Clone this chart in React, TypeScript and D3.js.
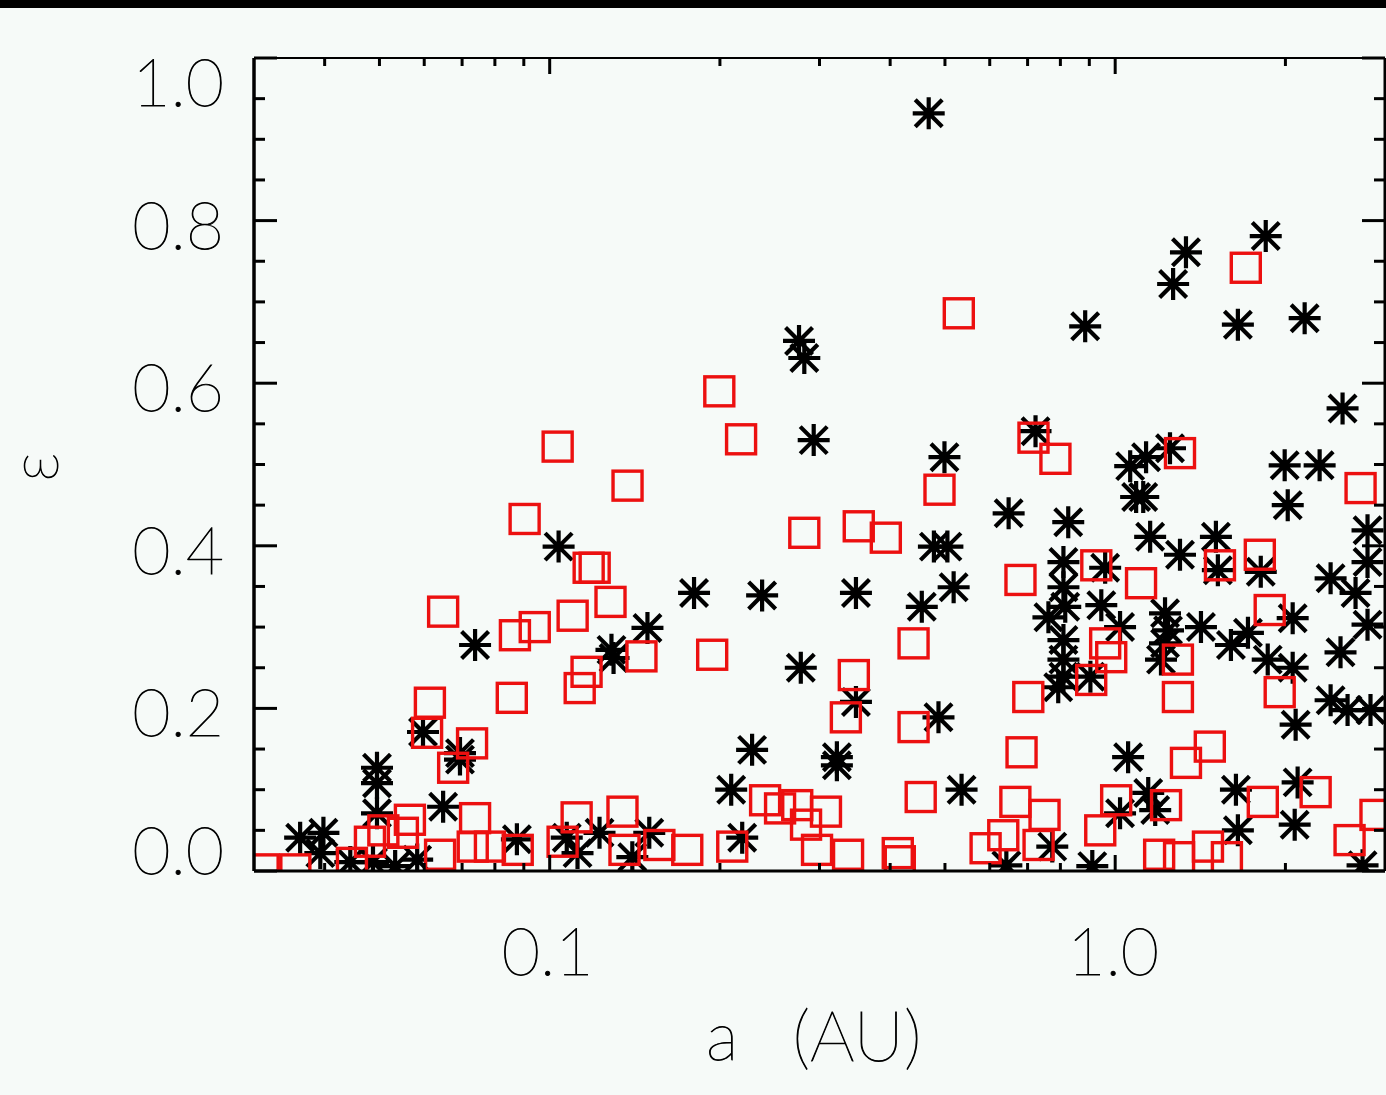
import React from 'react';
import * as d3 from 'd3';

// Black asterisks: semi-major axis a (AU) and eccentricity e
const starA = [0.468,1.846,1.334,1.266,1.648,2.163,0.885,0.276,0.282,0.293,
  2.524,0.499,0.723,1.063,1.134,1.250,1.994,2.299,2.019,1.089,
  1.121,0.648,0.826,1.153,1.302,1.507,1.519,1.809,2.404,2.661,
  2.794,2.794,0.810,0.810,0.960,0.478,0.505,0.518,0.455,0.1037,
  0.180,0.2375,0.348,0.1489,0.0738,0.1286,0.1297,0.278,0.348,0.487,
  0.0597,0.0694,0.0694,0.228,0.322,0.322,1.054,0.0495,0.0495,0.0495,
  0.0648,0.2094,0.219,0.535,0.762,0.816,0.945,1.020,1.225,1.240,
  1.418,1.602,1.717,1.861,2.060,2.060,2.503,2.794,2.404,2.576,
  2.828,2.085,0.810,0.810,0.793,0.904,1.205,1.225,1.144,1.177,
  1.020,1.635,2.102,2.077,1.648,0.774,0.911,2.738,0.642,0.0362,
  0.0398,0.0393,0.0487,0.0583,0.0875,0.1072,0.1120,0.1225,0.150,0.140,
  0.0444,0.0533,0.810];
const starE = [0.932,0.781,0.761,0.722,0.672,0.680,0.670,0.652,0.631,0.530,
  0.569,0.509,0.541,0.498,0.509,0.520,0.499,0.499,0.450,0.460,
  0.460,0.440,0.429,0.411,0.389,0.411,0.370,0.368,0.360,0.342,
  0.419,0.380,0.380,0.349,0.373,0.399,0.399,0.349,0.325,0.399,
  0.342,0.339,0.342,0.299,0.278,0.272,0.262,0.250,0.208,0.189,
  0.171,0.145,0.137,0.149,0.140,0.130,0.140,0.127,0.108,0.071,
  0.079,0.100,0.041,0.100,0.312,0.325,0.327,0.300,0.317,0.296,
  0.300,0.278,0.293,0.260,0.250,0.311,0.269,0.303,0.210,0.198,
  0.198,0.180,0.284,0.239,0.226,0.239,0.260,0.280,0.096,0.075,
  0.071,0.100,0.109,0.057,0.050,0.030,0.006,0.007,0.007,0.041,
  0.047,0.022,0.011,0.014,0.039,0.041,0.022,0.047,0.047,0.017,
  0.011,0.006,0.260];

// Red squares: semi-major axis a (AU) and eccentricity e
const boxA = [1.702,0.529,0.1995,0.218,0.1033,0.1373,0.0903,2.716,0.489,0.282,
  0.352,0.393,0.717,0.784,1.302,0.1172,0.1201,0.1281,0.0648,0.1098,
  0.0868,0.0941,0.1162,0.1130,0.1453,0.1938,0.0857,0.0614,0.0607,0.0729,
  0.0675,0.345,0.334,0.440,0.440,0.680,0.926,1.111,1.532,1.802,
  1.876,0.960,0.984,0.907,0.702,1.291,1.291,1.954,0.683,1.470,
  1.334,0.453,1.824,2.262,0.666,0.750,0.634,0.732,0.941,1.004,
  1.230,1.196,1.297,1.459,1.576,2.597,2.886,0.590,0.4126,0.416,
  0.337,0.297,0.284,0.308,0.274,0.2555,0.2404,0.2103,0.1751,0.1563,
  0.1356,0.1345,0.1116,0.1054,0.0878,0.0784,0.0731,0.0640,0.0738,0.0566,
  0.0550,0.0508,0.0481,0.0447,0.0355,0.0312];
const boxE = [0.742,0.686,0.590,0.531,0.522,0.474,0.433,0.471,0.469,0.416,
  0.424,0.410,0.533,0.507,0.514,0.373,0.373,0.331,0.319,0.314,
  0.290,0.300,0.245,0.225,0.264,0.266,0.213,0.207,0.170,0.157,
  0.127,0.241,0.189,0.280,0.177,0.358,0.376,0.354,0.376,0.389,
  0.321,0.280,0.263,0.235,0.214,0.260,0.214,0.220,0.146,0.153,
  0.133,0.091,0.085,0.097,0.085,0.069,0.044,0.032,0.050,0.087,
  0.081,0.020,0.017,0.030,0.017,0.038,0.069,0.028,0.022,0.012,
  0.020,0.026,0.057,0.073,0.081,0.077,0.087,0.030,0.026,0.032,
  0.026,0.073,0.066,0.036,0.026,0.030,0.030,0.020,0.065,0.063,
  0.047,0.050,0.036,0.010,0.002,0.002];

const yMajor = [0, 0.2, 0.4, 0.6, 0.8, 1.0];
const yLabels = ['0.0', '0.2', '0.4', '0.6', '0.8', '1.0'];
const xMajor = [0.1, 1.0];
const xLabels = ['0.1', '1.0'];
const xDomain = [0.03, 3];
const yDomain = [0, 1];
const xTitle = ['a', '(AU)'];
const yTitle = 'ε';

const W = 1386, H = 1095;
const BG = '#f6faf8';
const RED = '#ec1010';
const FONT = 'Lato, "Open Sans", sans-serif';

export default function App() {
  const L = 254, R = 1385, T = 58, B = 871;
  const x = d3.scaleLog().domain(xDomain).range([L, R]);
  const y = d3.scaleLinear().domain(yDomain).range([B, T]);

  const yMinor = d3.range(0.05, 1.0, 0.05).filter(v => Math.abs(v * 5 - Math.round(v * 5)) > 1e-6);
  const xMinor = x.ticks().filter(v => v > xDomain[0] * 1.001 && v < xDomain[1] * 0.999 && !xMajor.some(m => Math.abs(m - v) < 1e-9));

  const star = 'M-16,0H16M0,-16V16M-13.5,-13.5L13.5,13.5M-13.5,13.5L13.5,-13.5';
  const yMajLen = 23, yMinLen = 11, xMajLen = 16, xMinLen = 8;
  const txt = { fontFamily: FONT, fontWeight: 100, fontSize: 66, fill: '#000', stroke: '#000', strokeWidth: 0.9 } as const;

  return (
    <svg width={W} height={H} style={{ position: 'absolute', left: 0, top: 0, display: 'block' }}
      xmlns="http://www.w3.org/2000/svg">
      <rect x={0} y={0} width={W} height={H} fill={BG} />
      <rect x={0} y={0} width={W} height={8} fill="#000" />
      <defs>
        <clipPath id="plotClip">
          <rect x={L} y={T} width={R - L} height={B - T} />
        </clipPath>
      </defs>

      <g clipPath="url(#plotClip)">
        {starA.map((a, i) => (
          <path key={'s' + i} d={star} transform={`translate(${x(a)},${y(starE[i])})`}
            stroke="#000" strokeWidth={4.2} fill="none" />
        ))}
        {boxA.map((a, i) => (
          <rect key={'b' + i} x={x(a) - 14.5} y={y(boxE[i]) - 14.5} width={29} height={29}
            stroke={RED} strokeWidth={3.4} fill="none" />
        ))}
      </g>

      {/* frame */}
      <line x1={L} y1={T} x2={L} y2={B} stroke="#000" strokeWidth={3.5} />
      <line x1={R} y1={T} x2={R} y2={B} stroke="#000" strokeWidth={3} />
      <line x1={L} y1={T} x2={R} y2={T} stroke="#000" strokeWidth={2} />
      <line x1={L} y1={B} x2={R} y2={B} stroke="#000" strokeWidth={3} />

      {/* y ticks */}
      {yMajor.map(v => (
        <g key={'ym' + v}>
          <line x1={L} x2={L + yMajLen} y1={y(v)} y2={y(v)} stroke="#000" strokeWidth={3} />
          <line x1={R} x2={R - yMajLen} y1={y(v)} y2={y(v)} stroke="#000" strokeWidth={3} />
        </g>
      ))}
      {yMinor.map(v => (
        <g key={'yn' + v}>
          <line x1={L} x2={L + yMinLen} y1={y(v)} y2={y(v)} stroke="#000" strokeWidth={3} />
          <line x1={R} x2={R - yMinLen} y1={y(v)} y2={y(v)} stroke="#000" strokeWidth={3} />
        </g>
      ))}
      {/* x ticks */}
      {xMajor.map(v => (
        <g key={'xm' + v}>
          <line x1={x(v)} x2={x(v)} y1={T} y2={T + xMajLen} stroke="#000" strokeWidth={3} />
          <line x1={x(v)} x2={x(v)} y1={B} y2={B - xMajLen} stroke="#000" strokeWidth={3} />
        </g>
      ))}
      {xMinor.map(v => (
        <g key={'xn' + v}>
          <line x1={x(v)} x2={x(v)} y1={T} y2={T + xMinLen} stroke="#000" strokeWidth={3} />
          <line x1={x(v)} x2={x(v)} y1={B} y2={B - xMinLen} stroke="#000" strokeWidth={3} />
        </g>
      ))}

      {/* y tick labels */}
      {yMajor.map((v, i) => {
        const c = Math.min(Math.max(y(v) + 4, T + 24), B - 21);
        return (
          <text key={'yl' + v} x={224} y={c + 24} textAnchor="end" {...txt}>{yLabels[i]}</text>
        );
      })}
      {/* x tick labels */}
      {xMajor.map((v, i) => (
        <text key={'xl' + v} x={x(v) - 2} y={975} textAnchor="middle" {...txt}>{xLabels[i]}</text>
      ))}

      {/* titles */}
      <text x={722} y={1060} textAnchor="middle" {...txt} fontSize={68}>{xTitle[0]}</text>
      <text x={857} y={1061} textAnchor="middle" {...txt} fontSize={70}>{xTitle[1]}</text>
      <text transform="translate(58,467) rotate(-90)" textAnchor="middle" {...txt}>{yTitle}</text>
    </svg>
  );
}
